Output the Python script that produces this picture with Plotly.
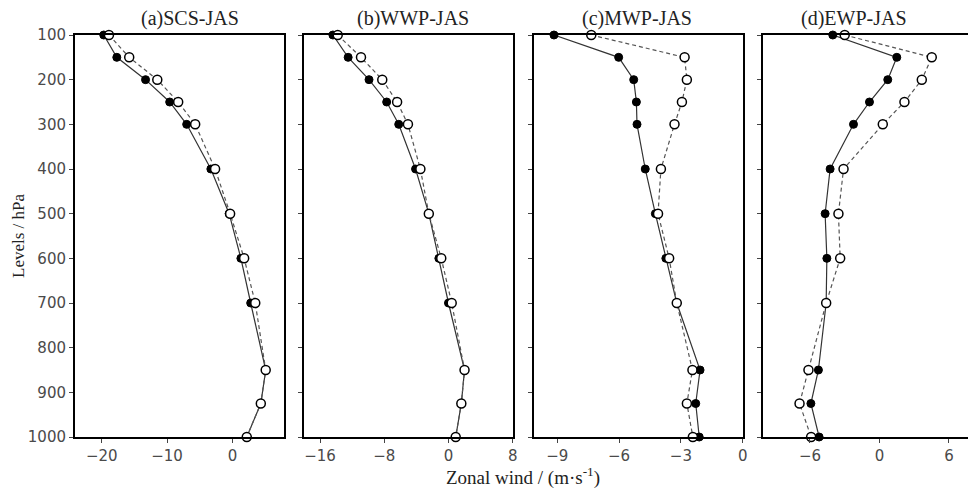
import plotly.graph_objects as go

levels = [100, 150, 200, 250, 300, 400, 500, 600, 700, 850, 925, 1000]

titles = ["(a)SCS-JAS", "(b)WWP-JAS", "(c)MWP-JAS", "(d)EWP-JAS"]

solid_a = [-19.7, -17.7, -13.3, -9.6, -7.0, -3.3, -0.5, 1.3, 2.8, 5.1, 4.35, 2.2]
dash_a = [-18.9, -15.8, -11.5, -8.3, -5.7, -2.65, -0.35, 1.8, 3.5, 5.1, 4.35, 2.2]

solid_b = [-14.4, -12.5, -9.9, -7.7, -6.2, -4.1, -2.45, -1.2, 0.0, 2.0, 1.6, 0.9]
dash_b = [-13.8, -10.9, -8.25, -6.4, -5.05, -3.5, -2.45, -0.9, 0.4, 2.0, 1.6, 0.9]

solid_c = [-9.16, -6.02, -5.29, -5.16, -5.13, -4.73, -4.24, -3.73, -3.2, -2.07, -2.28, -2.11]
dash_c = [-7.35, -2.82, -2.71, -2.95, -3.31, -3.97, -4.11, -3.57, -3.2, -2.44, -2.71, -2.42]

solid_d = [-4.03, 1.5, 0.72, -0.86, -2.24, -4.26, -4.69, -4.54, -4.6, -5.27, -5.92, -5.21]
dash_d = [-3.0, 4.52, 3.66, 2.16, 0.29, -3.1, -3.54, -3.39, -4.6, -6.13, -6.9, -5.9]

x_ranges = [[-24.1, 7.9], [-18, 8], [-10.13, 0], [-10.03, 7.65]]
x_ticks = [[-20, -10, 0], [-16, -8, 0, 8], [-9, -6, -3, 0], [-6, 0, 6]]
y_ticks = [100, 200, 300, 400, 500, 600, 700, 800, 900, 1000]

W, H = 968, 488
x_dom_px = [(75, 284), (304, 512.7), (534, 742.7), (763.3, 968)]
title_cx = [190, 413, 637, 854]
y_dom = [(H - 437) / H, (H - 35) / H]

solids = [solid_a, solid_b, solid_c, solid_d]
dashes = [dash_a, dash_b, dash_c, dash_d]

fig = go.Figure()
tick_font = dict(family="DejaVu Sans, sans-serif", size=15, color="#4a4a4a")
serif = "Liberation Serif, Times New Roman, serif"

for i in range(4):
    xa = "x" if i == 0 else f"x{i+1}"
    ya = "y" if i == 0 else f"y{i+1}"
    fig.add_trace(go.Scatter(
        x=solids[i], y=levels, xaxis=xa, yaxis=ya, mode="lines+markers",
        line=dict(color="#333333", width=1.2),
        marker=dict(symbol="circle", size=8, color="black", line=dict(color="black", width=1)),
        showlegend=False, cliponaxis=False))
    fig.add_trace(go.Scatter(
        x=dashes[i], y=levels, xaxis=xa, yaxis=ya, mode="lines+markers",
        line=dict(color="#555555", width=1.2, dash="4px,3px"),
        marker=dict(symbol="circle", size=9, color="white", line=dict(color="black", width=1.5)),
        showlegend=False, cliponaxis=False))

    xk = "xaxis" if i == 0 else f"xaxis{i+1}"
    yk = "yaxis" if i == 0 else f"yaxis{i+1}"
    x0, x1 = x_dom_px[i]
    fig.layout[xk] = dict(
        domain=[x0 / W, x1 / W], range=x_ranges[i], anchor=ya,
        tickvals=x_ticks[i], ticks="outside", ticklen=4, tickwidth=1, tickcolor="#444",
        showline=True, linecolor="black", linewidth=2, mirror=True,
        showgrid=False, zeroline=False, tickfont=tick_font, automargin=False)
    fig.layout[yk] = dict(
        domain=list(y_dom), range=[1000, 100], anchor=xa,
        tickvals=y_ticks, ticks="outside", ticklen=4, tickwidth=1, tickcolor="#444",
        showticklabels=(i == 0),
        showline=True, linecolor="black", linewidth=2, mirror=(i < 3),
        showgrid=False, zeroline=False, tickfont=tick_font, automargin=False)
    fig.add_annotation(text=titles[i], x=title_cx[i] / W,
                       y=(H - 19) / H, xref="paper", yref="paper",
                       showarrow=False, font=dict(family=serif, size=20, color="#222"),
                       xanchor="center", yanchor="middle")

fig.add_annotation(text="Levels / hPa", x=18 / W, y=(H - 236) / H, xref="paper", yref="paper",
                   textangle=-90, showarrow=False,
                   font=dict(family=serif, size=17, color="#222"),
                   xanchor="center", yanchor="middle")
fig.add_annotation(text="Zonal wind / (m·s<sup>-1</sup>)", x=523 / W, y=(H - 476) / H,
                   xref="paper", yref="paper", showarrow=False,
                   font=dict(family=serif, size=19, color="#222"),
                   xanchor="center", yanchor="middle")

fig.update_layout(width=W, height=H, margin=dict(l=0, r=0, t=0, b=0),
                  paper_bgcolor="white", plot_bgcolor="white")
fig.write_html("out.html")
